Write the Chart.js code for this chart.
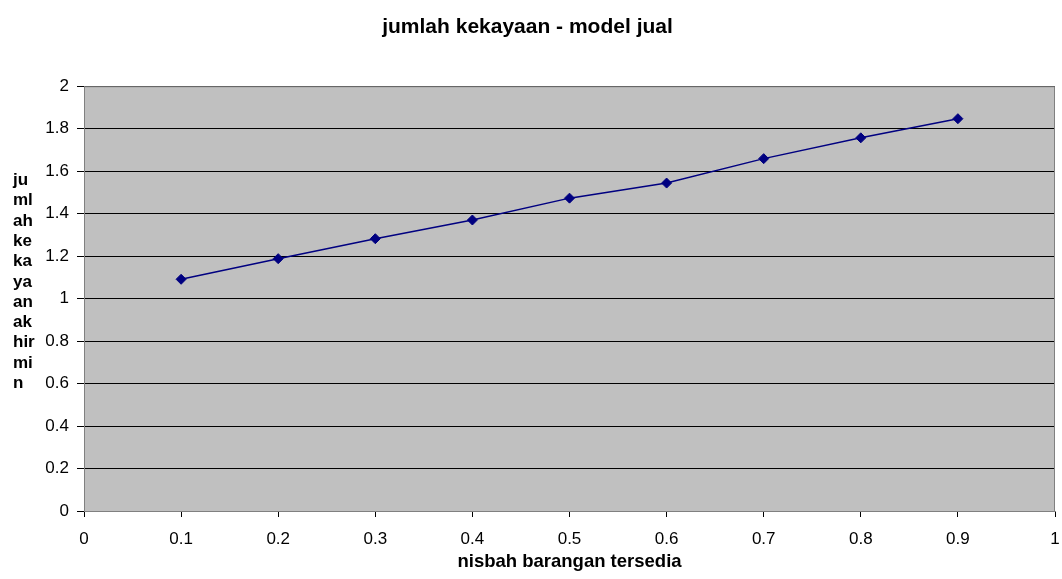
<!DOCTYPE html>
<html>
<head>
<meta charset="utf-8">
<script src="https://cdn.jsdelivr.net/npm/chart.js@4/dist/chart.umd.min.js"></script>
<style>
  html, body { margin: 0; padding: 0; background: #fff; }
  canvas { display: block; }
</style>
</head>
<body>
<canvas id="chart" width="1062" height="579"></canvas>
<script>
// Data
const ratios = [0.1, 0.2, 0.3, 0.4, 0.5, 0.6, 0.7, 0.8, 0.9];
const wealth = [1.091, 1.188, 1.282, 1.370, 1.473, 1.544, 1.659, 1.757, 1.847];
const xTickLabels = ['0', '0.1', '0.2', '0.3', '0.4', '0.5', '0.6', '0.7', '0.8', '0.9', '1'];
const yTickLabels = ['0', '0.2', '0.4', '0.6', '0.8', '1', '1.2', '1.4', '1.6', '1.8', '2'];
const chartTitle = 'jumlah kekayaan - model jual';
const xTitle = 'nisbah barangan tersedia';
// y title is split into short lines, as in the original
const yTitleLines = ['ju', 'ml', 'ah', 'ke', 'ka', 'ya', 'an', 'ak', 'hir', 'mi', 'n'];

const FONT = 'Liberation Sans, Arial, sans-serif';
const PLOT_BG = '#c0c0c0';
const BORDER = '#808080';
const NAVY = '#000080';

// Plot background + frame, and the stacked y title
const plotFrame = {
  id: 'plotFrame',
  beforeDraw(chart) {
    const { ctx, chartArea: a } = chart;
    ctx.save();
    ctx.fillStyle = PLOT_BG;
    ctx.fillRect(a.left, a.top, a.right - a.left, a.bottom - a.top);
    ctx.restore();
  },
  beforeDatasetsDraw(chart) {
    const { ctx, chartArea: a } = chart;
    ctx.save();
    ctx.strokeStyle = BORDER;
    ctx.lineWidth = 1;
    ctx.strokeRect(a.left + 0.5, a.top + 0.5, a.right - a.left - 1, a.bottom - a.top);
    ctx.restore();
  },
  afterDraw(chart) {
    const { ctx } = chart;
    ctx.save();
    ctx.fillStyle = '#000';
    ctx.font = 'bold 17px ' + FONT;
    ctx.textAlign = 'left';
    ctx.textBaseline = 'alphabetic';
    yTitleLines.forEach((line, i) => {
      ctx.fillText(line, 13, 185 + i * 20.3);
    });
    ctx.restore();
  }
};

function fmt(labels, min, step) {
  return (value) => {
    const i = Math.round((value - min) / step);
    return labels[i] !== undefined ? labels[i] : '';
  };
}

new Chart(document.getElementById('chart'), {
  type: 'line',
  data: {
    datasets: [{
      data: ratios.map((r, i) => ({ x: r, y: wealth[i] })),
      borderColor: NAVY,
      backgroundColor: NAVY,
      borderWidth: 1.5,
      pointStyle: 'rectRot',
      pointRadius: 5,
      pointBorderWidth: 1,
      pointBorderColor: NAVY,
      pointBackgroundColor: NAVY,
      tension: 0,
      fill: false
    }]
  },
  options: {
    responsive: false,
    devicePixelRatio: 1,
    animation: false,
    layout: { padding: { left: 0, right: 7, top: 0, bottom: 0 } },
    plugins: {
      legend: { display: false },
      tooltip: { enabled: false },
      title: {
        display: true,
        text: chartTitle,
        color: '#000',
        font: { family: FONT, size: 21, weight: 'bold' },
        padding: { top: 15, bottom: 46 }
      }
    },
    scales: {
      x: {
        type: 'linear',
        min: 0,
        max: 1,
        afterFit: (s) => {
          s.height = 68;
          s.paddingLeft = 0;
          s.paddingRight = 7;
        },
        ticks: {
          stepSize: 0.1,
          color: '#000',
          padding: 12,
          maxRotation: 0,
          font: { family: FONT, size: 17 },
          callback: fmt(xTickLabels, 0, 0.1)
        },
        grid: {
          drawOnChartArea: false,
          drawTicks: true,
          tickLength: 6,
          tickColor: '#000'
        },
        border: { color: BORDER, width: 1 },
        title: {
          display: true,
          text: xTitle,
          color: '#000',
          font: { family: FONT, size: 18.5, weight: 'bold' },
          padding: { top: 0, bottom: 6 }
        }
      },
      y: {
        type: 'linear',
        min: 0,
        max: 2,
        afterFit: (s) => { s.width = 84; },
        ticks: {
          stepSize: 0.2,
          color: '#000',
          padding: 8,
          font: { family: FONT, size: 17 },
          callback: fmt(yTickLabels, 0, 0.2)
        },
        grid: {
          color: '#000',
          lineWidth: 1,
          drawTicks: true,
          tickLength: 7,
          tickColor: '#000'
        },
        border: { color: BORDER, width: 1 }
      }
    }
  },
  plugins: [plotFrame]
});
</script>
</body>
</html>
